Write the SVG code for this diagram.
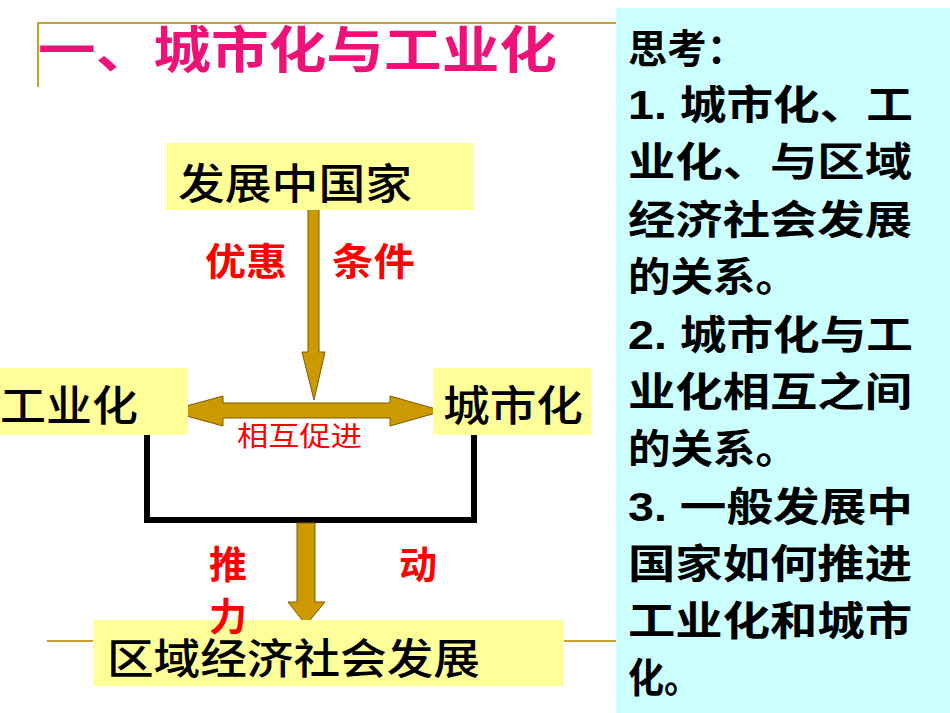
<svg xmlns="http://www.w3.org/2000/svg" width="950" height="713" viewBox="0 0 950 713">
<style>
.box{fill:#ffff99}
.nt{font-family:"Noto Sans CJK SC",sans-serif;font-size:42px;font-weight:500;fill:#000}
.rd{font-family:"Noto Sans CJK SC",sans-serif;fill:#ff0000}
.gold{fill:#cc9900;stroke:#7a5c00;stroke-width:1}
.q{font-family:"Liberation Sans","Noto Sans CJK SC",sans-serif;font-size:40px;font-weight:bold;fill:#000}
</style>
<rect width="950" height="713" fill="#fff"/>
<rect x="616" y="8" width="334" height="705" fill="#ccffff"/>
<g id="frame" stroke="#c8a030" stroke-width="2" fill="none">
<path d="M38 87V23H616"/><path d="M47 641H616"/>
</g>
<text x="38" y="68" font-family="Noto Sans CJK SC,sans-serif" font-size="50" font-weight="bold" fill="#ee1177" textLength="519" lengthAdjust="spacingAndGlyphs">一、城市化与工业化</text>
<g id="connectors">
<path class="gold" d="M308 207H319V352H325L314 400L302 352H308Z"/>
<path class="gold" d="M168 411L223 396V403H390V396L443 411L390 426V418H223V426Z"/>
<path d="M147 427V520H474V427" fill="none" stroke="#000" stroke-width="6"/>
<path class="gold" d="M297 523H315V602H325L306 625L288 602H297Z"/>
</g>
<g id="n1"><rect class="box" x="166" y="143" width="308" height="67"/><text class="nt" x="178" y="199" textLength="234" lengthAdjust="spacingAndGlyphs">发展中国家</text></g>
<g id="n2"><rect class="box" x="0" y="368" width="188" height="67"/><text class="nt" x="0" y="421" textLength="138" lengthAdjust="spacingAndGlyphs">工业化</text></g>
<g id="n3"><rect class="box" x="433" y="368" width="158" height="67"/><text class="nt" x="443" y="421" textLength="140" lengthAdjust="spacingAndGlyphs">城市化</text></g>
<g id="n4"><rect class="box" x="93" y="620" width="471" height="66"/><text class="nt" x="107" y="674" textLength="373" lengthAdjust="spacingAndGlyphs">区域经济社会发展</text></g>
<g id="labels">
<text class="rd" x="205" y="275" font-size="38" font-weight="bold" textLength="82" lengthAdjust="spacingAndGlyphs">优惠</text>
<text class="rd" x="332" y="275" font-size="38" font-weight="bold" textLength="83" lengthAdjust="spacingAndGlyphs">条件</text>
<text class="rd" x="237" y="446" font-size="27" textLength="125" lengthAdjust="spacingAndGlyphs">相互促进</text>
<text class="rd" x="209" y="578" font-size="38" font-weight="bold">推</text>
<text class="rd" x="209" y="630" font-size="38" font-weight="bold">力</text>
<text class="rd" x="399" y="578" font-size="38" font-weight="bold">动</text>
</g>
<g id="panel">
<text class="q" x="628" y="63" textLength="118" lengthAdjust="spacingAndGlyphs">思考：</text>
<text class="q" x="628" y="119" textLength="285" lengthAdjust="spacingAndGlyphs">1. 城市化、工</text>
<text class="q" x="628" y="176" textLength="284" lengthAdjust="spacingAndGlyphs">业化、与区域</text>
<text class="q" x="628" y="234" textLength="284" lengthAdjust="spacingAndGlyphs">经济社会发展</text>
<text class="q" x="628" y="291" textLength="170" lengthAdjust="spacingAndGlyphs">的关系。</text>
<text class="q" x="628" y="349" textLength="285" lengthAdjust="spacingAndGlyphs">2. 城市化与工</text>
<text class="q" x="628" y="406" textLength="284" lengthAdjust="spacingAndGlyphs">业化相互之间</text>
<text class="q" x="628" y="463" textLength="170" lengthAdjust="spacingAndGlyphs">的关系。</text>
<text class="q" x="628" y="521" textLength="285" lengthAdjust="spacingAndGlyphs">3. 一般发展中</text>
<text class="q" x="628" y="578" textLength="284" lengthAdjust="spacingAndGlyphs">国家如何推进</text>
<text class="q" x="628" y="635" textLength="284" lengthAdjust="spacingAndGlyphs">工业化和城市</text>
<text class="q" x="628" y="692" textLength="72" lengthAdjust="spacingAndGlyphs">化。</text>
</g>
</svg>
